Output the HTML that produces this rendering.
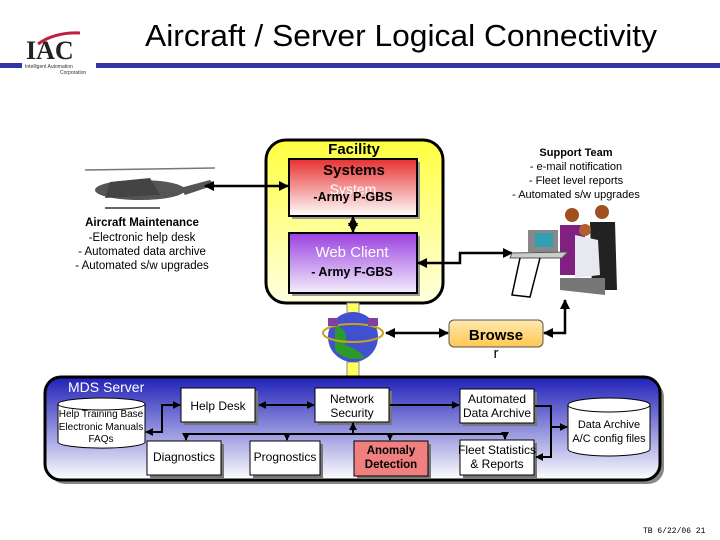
<!DOCTYPE html>
<html><head><meta charset="utf-8"><style>
body{margin:0;width:720px;height:540px;background:#fff;overflow:hidden;font-family:"Liberation Sans",sans-serif}
svg{display:block}
</style></head><body>
<svg width="720" height="540" viewBox="0 0 720 540" xmlns="http://www.w3.org/2000/svg" font-family="Liberation Sans, sans-serif">
<defs>
<linearGradient id="red" x1="0" y1="0" x2="0" y2="1"><stop offset="0" stop-color="#e83030"/><stop offset="1" stop-color="#fff"/></linearGradient>
<linearGradient id="pur" x1="0" y1="0" x2="0" y2="1"><stop offset="0" stop-color="#9a40e0"/><stop offset="1" stop-color="#f4eefc"/></linearGradient>
<linearGradient id="yel" x1="0" y1="0" x2="0" y2="1"><stop offset="0" stop-color="#ffff40"/><stop offset="1" stop-color="#ffffe0"/></linearGradient>
<linearGradient id="mds" x1="0" y1="0" x2="0" y2="1"><stop offset="0" stop-color="#2020b8"/><stop offset="0.55" stop-color="#9a9ae0"/><stop offset="1" stop-color="#ffffff"/></linearGradient>
<linearGradient id="org" x1="0" y1="0" x2="0" y2="1"><stop offset="0" stop-color="#ffe8b0"/><stop offset="1" stop-color="#ffc850"/></linearGradient>
<marker id="a" viewBox="0 0 10 10" refX="9" refY="5" markerWidth="4" markerHeight="4" orient="auto-start-reverse"><path d="M0,0L10,5L0,10z" fill="#000"/></marker>
</defs>
<!-- header -->
<text x="401" y="46" font-size="31" text-anchor="middle" fill="#000" textLength="512" lengthAdjust="spacingAndGlyphs">Aircraft / Server Logical Connectivity</text>
<rect x="0" y="63" width="720" height="5" fill="#3333aa"/>
<rect x="22" y="60" width="74" height="10" fill="#fff"/>
<text x="26" y="59" font-size="26" font-weight="bold" font-family="Liberation Serif, serif" fill="#222">IAC</text>
<path d="M38,44 Q55,32 80,33" stroke="#c02040" stroke-width="3" fill="none"/>
<text x="25" y="68" font-size="5" fill="#333">Intelligent Automation</text>
<text x="60" y="74" font-size="5" fill="#333">Corporation</text>

<!-- helicopter -->
<g fill="#555">
<ellipse cx="140" cy="190" rx="45" ry="10"/>
<path d="M110,182 L150,178 L160,195 L105,198z" fill="#444"/>
<path d="M180,188 L210,180 L215,185 L185,195z"/>
<line x1="85" y1="170" x2="215" y2="168" stroke="#777" stroke-width="1.5"/>
<line x1="105" y1="208" x2="160" y2="208" stroke="#666" stroke-width="2"/>
</g>
<text x="142" y="226" font-size="11.5" font-weight="bold" text-anchor="middle">Aircraft Maintenance</text>
<text x="142" y="241" font-size="11.5" text-anchor="middle">-Electronic help desk</text>
<text x="142" y="255" font-size="11.5" text-anchor="middle">- Automated data archive</text>
<text x="142" y="269" font-size="11.5" text-anchor="middle">- Automated s/w upgrades</text>

<!-- facility -->
<rect x="266" y="140" width="177" height="163" rx="20" fill="url(#yel)" stroke="#000" stroke-width="3"/>
<text x="354" y="154" font-size="15" font-weight="bold" text-anchor="middle">Facility</text>
<rect x="292" y="162" width="128" height="57" fill="#999"/>
<rect x="289" y="159" width="128" height="57" fill="url(#red)" stroke="#000" stroke-width="2"/>
<text x="354" y="175" font-size="15" font-weight="bold" text-anchor="middle">Systems</text>
<text x="353" y="194" font-size="14" fill="#fff" text-anchor="middle">System</text>
<text x="353" y="201" font-size="12.5" font-weight="bold" text-anchor="middle">-Army P-GBS</text>
<rect x="292" y="236" width="128" height="60" fill="#999"/>
<rect x="289" y="233" width="128" height="60" fill="url(#pur)" stroke="#000" stroke-width="2"/>
<text x="352" y="257" font-size="15" fill="#fff" text-anchor="middle">Web Client</text>
<text x="352" y="276" font-size="12.5" font-weight="bold" text-anchor="middle">- Army F-GBS</text>
<line x1="353" y1="217" x2="353" y2="232" stroke="#000" stroke-width="2.5" marker-start="url(#a)" marker-end="url(#a)"/>
<line x1="205" y1="186" x2="288" y2="186" stroke="#000" stroke-width="2.5" marker-start="url(#a)" marker-end="url(#a)"/>
<polyline points="418,263 460,263 460,253 512,253" fill="none" stroke="#000" stroke-width="2.5" marker-start="url(#a)" marker-end="url(#a)"/>

<!-- yellow arrows -->
<rect x="347" y="303" width="12" height="12" fill="#ffff60" stroke="#888"/>
<rect x="347" y="362" width="12" height="14" fill="#ffff60" stroke="#888"/>
<!-- globe -->
<circle cx="353" cy="337" r="25" fill="#4050d0"/>
<path d="M335,325 Q350,330 345,345 Q360,350 365,358 Q345,362 335,350z" fill="#2a9a2a"/>
<ellipse cx="353" cy="333" rx="30" ry="9" fill="none" stroke="#c9a020" stroke-width="2"/>
<rect x="328" y="318" width="10" height="8" fill="#8040a0"/>
<rect x="368" y="318" width="10" height="8" fill="#8040a0"/>

<!-- browser -->
<rect x="449" y="320" width="94" height="27" rx="5" fill="url(#org)" stroke="#555"/>
<text x="496" y="340" font-size="15" font-weight="bold" text-anchor="middle">Browse</text>
<text x="496" y="358" font-size="15" text-anchor="middle">r</text>
<line x1="386" y1="333" x2="448" y2="333" stroke="#000" stroke-width="2.5" marker-start="url(#a)" marker-end="url(#a)"/>
<polyline points="544,333 565,333 565,300" fill="none" stroke="#000" stroke-width="2.5" marker-start="url(#a)" marker-end="url(#a)"/>

<!-- support team -->
<text x="576" y="156" font-size="11" font-weight="bold" text-anchor="middle">Support Team</text>
<text x="576" y="170" font-size="11" text-anchor="middle">- e-mail notification</text>
<text x="576" y="184" font-size="11" text-anchor="middle">- Fleet level reports</text>
<text x="576" y="198" font-size="11" text-anchor="middle">- Automated s/w upgrades</text>
<g>
<path d="M560,225 L585,225 L585,275 L560,275z" fill="#802080"/>
<circle cx="572" cy="215" r="7" fill="#a05020"/>
<path d="M590,222 L615,222 L617,290 L592,290z" fill="#222"/>
<circle cx="602" cy="212" r="7" fill="#a05020"/>
<rect x="528" y="230" width="30" height="22" fill="#888"/><rect x="535" y="233" width="18" height="14" fill="#30a0b0"/>
<path d="M512,253 L568,252 L562,258 L510,258z" fill="#ccc" stroke="#555"/>
<path d="M575,235 L598,240 L600,275 L575,278z" fill="#e8e8f0"/>
<circle cx="585" cy="230" r="6" fill="#b06030"/>
<path d="M560,278 L605,278 L605,295 L560,290z" fill="#777"/>
<polyline points="520,258 512,295 530,297 540,258" fill="none" stroke="#000" stroke-width="1.5"/>
</g>

<!-- MDS -->
<rect x="49" y="381" width="615" height="103" rx="16" fill="#888"/>
<rect x="45" y="377" width="615" height="103" rx="16" fill="url(#mds)" stroke="#000" stroke-width="3"/>
<text x="68" y="392" font-size="14" fill="#fff">MDS Server</text>
<g stroke="#000" stroke-width="1" fill="#fff">
<path d="M58,404 L58,442 A43,6 0 0 0 145,442 L145,404" /><ellipse cx="101.5" cy="404" rx="43.5" ry="6"/>
<path d="M568,405 L568,449 A41,7 0 0 0 650,449 L650,405" /><ellipse cx="609" cy="405" rx="41" ry="7"/>
</g>
<g font-size="10" text-anchor="middle">
<text x="101" y="417">Help Training Base</text>
<text x="101" y="430">Electronic Manuals</text>
<text x="101" y="442">FAQs</text>
</g>
<text x="609" y="428" font-size="11" text-anchor="middle">Data Archive</text>
<text x="609" y="442" font-size="11" text-anchor="middle">A/C config files</text>
<g fill="#fff" stroke="#000" stroke-width="1">
<rect x="184" y="391" width="74" height="34" fill="#777" stroke="none"/><rect x="181" y="388" width="74" height="34"/>
<rect x="318" y="391" width="74" height="34" fill="#777" stroke="none"/><rect x="315" y="388" width="74" height="34"/>
<rect x="463" y="392" width="74" height="34" fill="#777" stroke="none"/><rect x="460" y="389" width="74" height="34"/>
<rect x="150" y="444" width="74" height="34" fill="#777" stroke="none"/><rect x="147" y="441" width="74" height="34"/>
<rect x="253" y="444" width="70" height="34" fill="#777" stroke="none"/><rect x="250" y="441" width="70" height="34"/>
<rect x="357" y="444" width="74" height="35" fill="#777" stroke="none"/><rect x="354" y="441" width="74" height="35" fill="#f08080"/>
<rect x="463" y="443" width="74" height="35" fill="#777" stroke="none"/><rect x="460" y="440" width="74" height="35"/>
</g>
<g font-size="12" text-anchor="middle">
<text x="218" y="410">Help Desk</text>
<text x="352" y="403">Network</text><text x="352" y="417">Security</text>
<text x="497" y="403">Automated</text><text x="497" y="417">Data Archive</text>
<text x="184" y="461">Diagnostics</text>
<text x="285" y="461">Prognostics</text>
<text x="391" y="454" font-weight="bold" font-size="11.5">Anomaly</text><text x="391" y="468" font-weight="bold" font-size="11.5">Detection</text>
<text x="497" y="454">Fleet Statistics</text><text x="497" y="468">&amp; Reports</text>
</g>
<g stroke="#000" stroke-width="2" fill="none">
<line x1="259" y1="405" x2="314" y2="405" marker-start="url(#a)" marker-end="url(#a)"/>
<line x1="390" y1="405" x2="459" y2="405" marker-end="url(#a)"/>
<polyline points="146,432 162,432 162,405 180,405" marker-start="url(#a)" marker-end="url(#a)"/>
<line x1="186" y1="434" x2="505" y2="434"/>
<line x1="186" y1="434" x2="186" y2="440" marker-end="url(#a)"/>
<line x1="287" y1="434" x2="287" y2="440" marker-end="url(#a)"/>
<line x1="390" y1="434" x2="390" y2="440" marker-end="url(#a)"/>
<line x1="505" y1="434" x2="505" y2="439" marker-end="url(#a)"/>
<line x1="353" y1="434" x2="353" y2="423" marker-end="url(#a)"/>
<polyline points="535,406 551,406 551,457 536,457" marker-end="url(#a)"/>
<line x1="551" y1="427" x2="567" y2="427" marker-end="url(#a)"/>
</g>
<text x="643" y="533" font-size="8" font-family="Liberation Mono, monospace">TB 6/22/06  21</text>
</svg>
</body></html>
